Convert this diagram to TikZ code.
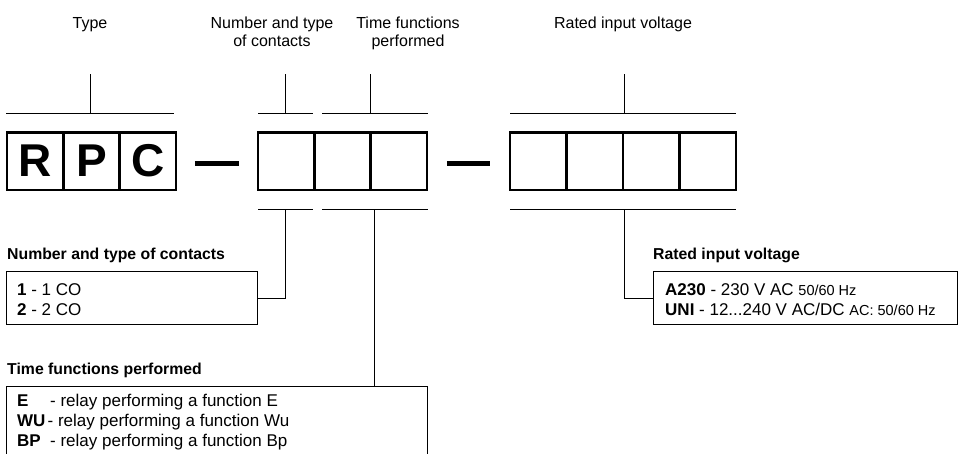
\documentclass[tikz,border=0pt]{standalone}
\usepackage{fontspec}
\setmainfont{Liberation Sans}
\usetikzlibrary{calc}
\newcommand\fsz[2]{\fontsize{#1}{#2}\selectfont}
\begin{document}
\begin{tikzpicture}[x=1pt,y=-1pt,
  cell/.style={draw, line width=2.6pt, minimum width=56.3pt, minimum height=57.7pt,
    inner sep=0pt, outer sep=0pt, font=\fsz{46}{46}\bfseries},
  vcell/.style={cell, minimum width=56.5pt},
  thinline/.style={line width=1pt},
  bigdash/.style={line width=4.5pt},
  toplabel/.style={font=\fsz{16}{18}, align=center, inner sep=0pt, anchor=base},
  heading/.style={font=\fsz{15.8}{18}\bfseries, inner sep=0pt, anchor=base west},
  item/.style={font=\fsz{17}{20}, inner sep=0pt, anchor=base west},
  legend/.style={draw, line width=1pt, inner sep=0pt, outer sep=0pt, anchor=north west},
]
\useasboundingbox (0,0) rectangle (958,454);
\clip (0,0) rectangle (958,454);

% top labels
\node[toplabel] (lType) at (90,28.5) {Type};
\node[toplabel] (lNum) at (272,46.5) {Number and type\\of contacts};
\node[toplabel] (lTime) at (408,46.5) {Time functions\\performed};
\node[toplabel] (lVolt) at (623,28.5) {Rated input voltage};

% cells
\node[cell] (r1) at (35.15,161.15) {R};
\node[cell] (r2) at (91.45,161.15) {P};
\node[cell] (r3) at (147.75,161.15) {C};
\node[cell] (c1) at (286.15,161.15) {};
\node[cell] (c2) at (342.45,161.15) {};
\node[cell] (c3) at (398.75,161.15) {};
\node[vcell] (v1) at (538.25,161.15) {};
\node[vcell] (v2) at (594.75,161.15) {};
\node[vcell] (v3) at (651.25,161.15) {};
\node[vcell] (v4) at (707.75,161.15) {};

% dashes
\draw[bigdash] ($(r3.east)+(19,2.6)$) -- ($(c1.west)+(-19,2.6)$);
\draw[bigdash] ($(c3.east)+(20,2.6)$) -- ($(v1.west)+(-20,2.6)$);

% top brackets
\draw[thinline] (6,113.3) -- (174,113.3) (90,113.3) -- (90,74);
\draw[thinline] (258,113.3) -- (313,113.3) (285,113.3) -- (285,74);
\draw[thinline] (322,113.3) -- (428,113.3) (370,113.3) -- (370,74);
\draw[thinline] (510,113.3) -- (736,113.3) (624,113.3) -- (624,74);

% bottom brackets
\draw[thinline] (258,210) -- (313,210);
\draw[thinline] (322,210) -- (428,210);
\draw[thinline] (510,210) -- (736,210);

% legend boxes
\node[legend, minimum width=251pt, minimum height=52pt] (lc) at (6,272) {};
\node[legend, minimum width=421pt, minimum height=90pt] (lt) at (6,386) {};
\node[legend, minimum width=304.5pt, minimum height=52pt] (lv) at (653,272) {};

% connectors
\coordinate (cb) at (285,210);
\coordinate (tb) at (374,210);
\coordinate (vb) at (624,210);
\draw[thinline] (cb) |- (lc.east);
\draw[thinline] (tb) -- (tb |- lt.north);
\draw[thinline] (vb) |- (lv.west);

% legend texts
\node[heading] (hc) at (7,260) {Number and type of contacts};
\node[item] (ic1) at (17,295) {\textbf{1} - 1 CO};
\node[item] (ic2) at (17,316) {\textbf{2} - 2 CO};

\node[heading] (ht) at (7,374.5) {Time functions performed};
\node[item] (it1) at (17,406) {\makebox[33pt][l]{\textbf{E}}- relay performing a function E};
\node[item] (it2) at (17,426.3) {\makebox[30.5pt][l]{\textbf{WU}}- relay performing a function Wu};
\node[item] (it3) at (17,446.6) {\makebox[33pt][l]{\textbf{BP}}- relay performing a function Bp};

\node[heading] (hv) at (653,260) {Rated input voltage};
\node[item] (iv1) at (665,295) {\textbf{A230} - 230 V AC {\fsz{14.5}{17}50/60 Hz}};
\node[item] (iv2) at (665,316) {\textbf{UNI} - 12...240 V AC/DC {\fsz{14.5}{17}AC: 50/60 Hz}};
\end{tikzpicture}
\end{document}
